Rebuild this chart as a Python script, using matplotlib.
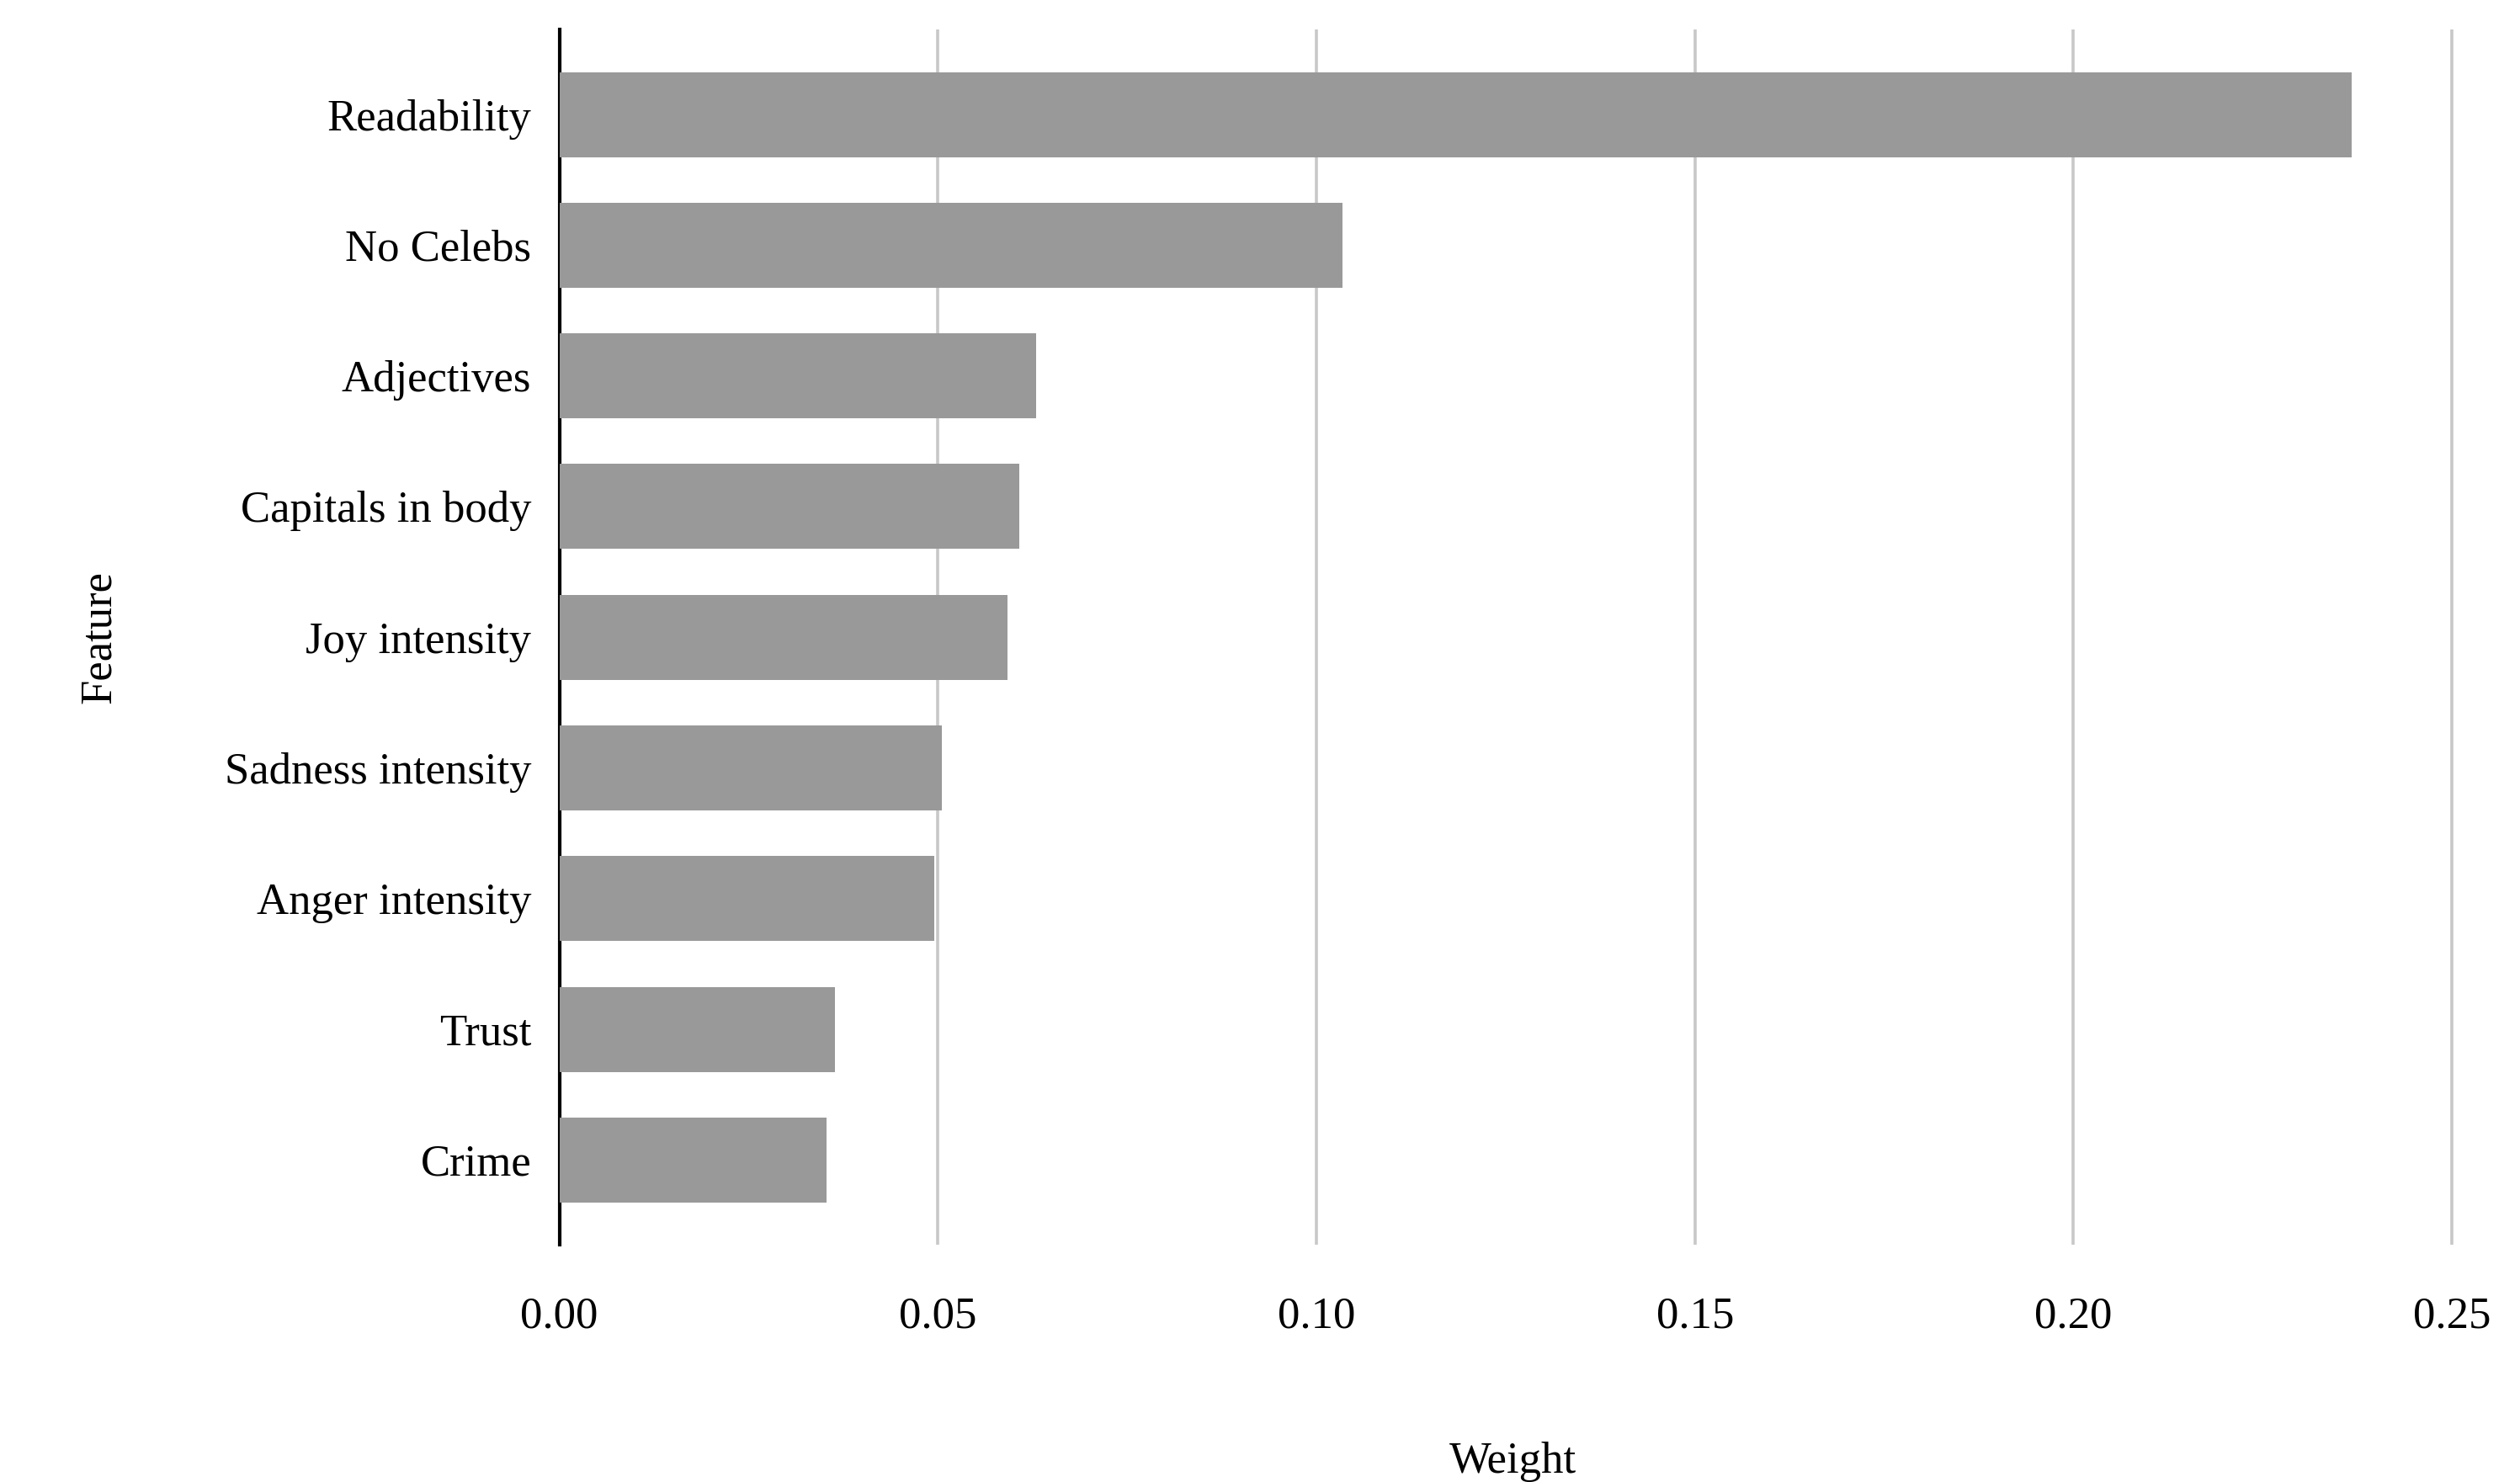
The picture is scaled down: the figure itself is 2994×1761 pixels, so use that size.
import matplotlib.pyplot as plt

features = ["Readability", "No Celebs", "Adjectives", "Capitals in body", "Joy intensity",
            "Sadness intensity", "Anger intensity", "Trust", "Crime"]
weights = [0.2367, 0.1034, 0.0630, 0.0607, 0.0592, 0.0505, 0.0495, 0.0364, 0.0353]
xticks = [0.00, 0.05, 0.10, 0.15, 0.20, 0.25]

plt.rcParams['font.family'] = ['Liberation Serif', 'DejaVu Serif']
fig = plt.figure(figsize=(14.97, 8.805), dpi=200)
ax = fig.add_axes([0.222, 0.16, 0.757, 0.82])

y = list(range(len(features)))
ax.barh(y, weights, height=0.65, color='#999999', zorder=3)
ax.set_yticks(y)
ax.set_yticklabels(features, fontsize=19)
ax.invert_yaxis()
ax.set_ylim(len(features) - 0.35, -0.65)
ax.set_xlim(0, 0.252)
ax.set_xticks(xticks)
ax.set_xticklabels([f"{v:.2f}" for v in xticks], fontsize=19)
ax.grid(axis='x', color='#c8c8c8', linewidth=1.3, zorder=0)
for s in ['top', 'right', 'bottom']:
    ax.spines[s].set_visible(False)
ax.spines['left'].set_linewidth(1.5)
ax.tick_params(axis='both', length=0, pad=12)
ax.tick_params(axis='x', pad=22)
ax.set_xlabel("Weight", fontsize=19, labelpad=45)
ax.set_ylabel("Feature", fontsize=19, labelpad=45)

fig.savefig("out.png", dpi=200)
